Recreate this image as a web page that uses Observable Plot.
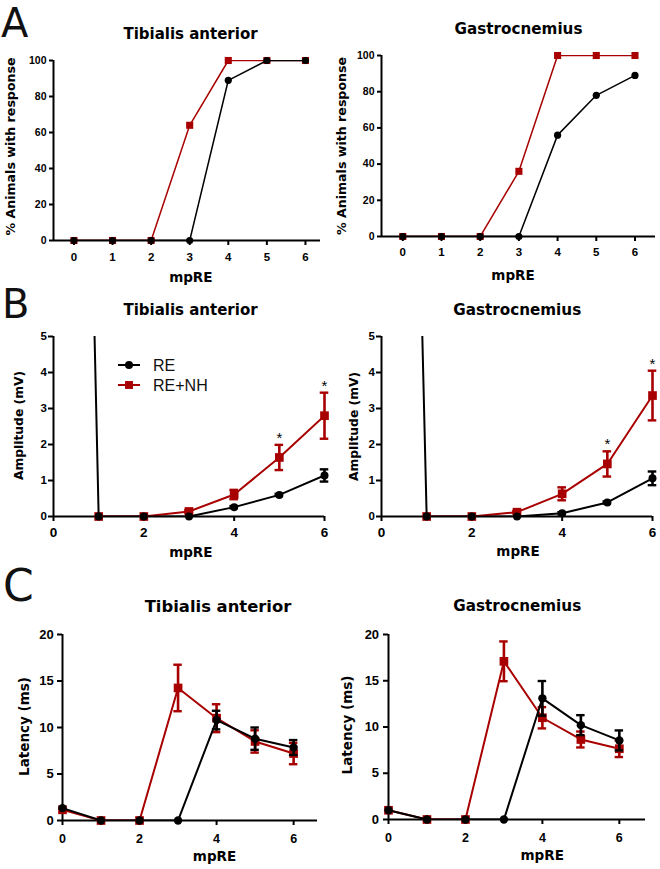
<!DOCTYPE html>
<html><head><meta charset="utf-8">
<script src="https://cdn.jsdelivr.net/npm/d3@7"></script>
<script src="https://cdn.jsdelivr.net/npm/@observablehq/plot@0.6"></script>
<style>
html,body{margin:0;padding:0;background:#fff;}
#fig{position:relative;width:660px;height:869px;overflow:hidden;background:#fff;}
.panel{position:absolute;}
#overlay{position:absolute;left:0;top:0;pointer-events:none;}
</style></head><body><div id="fig"></div>
<script>
// ---------- data ----------
const mpRE = [0, 1, 2, 3, 4, 5, 6];
const seriesNames = ["RE", "RE+NH"];
const muscles = ["Tibialis anterior", "Gastrocnemius"];

// A: % animals with response
const taRespRE = [0, 0, 0, 0, 89, 100, 100];
const taRespNH = [0, 0, 0, 64, 100, 100, 100];
const gcRespRE = [0, 0, 0, 0, 56, 78, 89];
const gcRespNH = [0, 0, 0, 36, 100, 100, 100];

// B: amplitude (mV), mean and SEM
const taAmpRE    = [55, 0, 0, 0, 0.26, 0.60, 1.14];
const taAmpREsem = [0, 0, 0, 0, 0.03, 0.03, 0.17];
const taAmpNH    = [null, 0, 0, 0.14, 0.61, 1.64, 2.80];
const taAmpNHsem = [null, 0, 0, 0.04, 0.13, 0.35, 0.64];
const gcAmpRE    = [52, 0, 0, 0, 0.09, 0.39, 1.06];
const gcAmpREsem = [0, 0, 0, 0, 0.03, 0.03, 0.19];
const gcAmpNH    = [null, 0, 0, 0.12, 0.63, 1.46, 3.36];
const gcAmpNHsem = [null, 0, 0, 0.03, 0.18, 0.35, 0.69];
const taAmpStars = [5, 6];
const gcAmpStars = [5, 6];

// C: latency (ms), mean and SEM
const taLatRE    = [1.33, 0, 0, 0, 10.8, 8.8, 7.85];
const taLatREsem = [0, 0, 0, 0, 1.0, 1.2, 0.8];
const taLatNH    = [1.15, 0, 0, 14.25, 11.0, 8.5, 7.2];
const taLatNHsem = [0, 0, 0, 2.5, 1.5, 1.2, 1.15];
const gcLatRE    = [1.0, 0, 0, 0, 13.1, 10.2, 8.55];
const gcLatREsem = [0, 0, 0, 0, 1.87, 1.08, 1.08];
const gcLatNH    = [1.0, 0, 0, 17.1, 11.0, 8.65, 7.65];
const gcLatNHsem = [0, 0, 0, 2.15, 1.15, 0.86, 0.9];

// tick values
const xTicksA = [0, 1, 2, 3, 4, 5, 6];
const xTicksBC = [0, 2, 4, 6];
const yTicksA = [0, 20, 40, 60, 80, 100];
const yTicksB = [0, 1, 2, 3, 4, 5];
const yTicksC = [0, 5, 10, 15, 20];

// ---------- drawing ----------
const RED = "#a80000", BLACK = "#000000";
const FONT = "'Liberation Sans', Arial, sans-serif";
const DFONT = "'DejaVu Sans', sans-serif";

function mk(ys, sem) {
  return mpRE.map((x, i) => ({x, y: ys[i], e: sem ? sem[i] : 0})).filter(d => d.y != null);
}

function panel(c) {
  const [mt, mr, mb, ml] = c.margin;
  const marks = [];
  marks.push(Plot.ruleY([c.yDomain[0]], {stroke: BLACK, strokeWidth: 2}));
  marks.push(Plot.ruleX([c.xDomain[0]], {stroke: BLACK, strokeWidth: 2}));
  // tick marks (labels drawn below as text marks)
  marks.push(Plot.axisX({ticks: c.xTicks, tickSize: c.xt[0], strokeWidth: 2, label: null, tickFormat: () => ""}));
  marks.push(Plot.axisY({ticks: c.yTicks, tickSize: c.yt[0], strokeWidth: 2, label: null, tickFormat: () => ""}));
  // tick labels
  marks.push(Plot.text(c.xTicks, {x: d => d, text: d => String(d), frameAnchor: "bottom", dy: c.xt[1],
    lineAnchor: "top", textAnchor: "middle", fontSize: c.xt[2], fontWeight: "bold", fontFamily: FONT, fill: BLACK}));
  marks.push(Plot.text(c.yTicks, {y: d => d, text: d => String(d), frameAnchor: "left", dx: c.yt[1],
    lineAnchor: "middle", textAnchor: "end", fontSize: c.yt[2], fontWeight: "bold", fontFamily: FONT, fill: BLACK}));

  for (const s of c.series) {
    const data = s.data;
    marks.push(Plot.line(data, {x: "x", y: "y", stroke: s.color, strokeWidth: c.lw, clip: true}));
    const eb = data.filter(d => d.e > 0);
    if (eb.length) {
      marks.push(Plot.ruleX(eb, {x: "x", y1: d => d.y - d.e, y2: d => d.y + d.e, stroke: s.color, strokeWidth: 2.6}));
      marks.push(Plot.ruleY(eb, {y: d => d.y + d.e, x1: d => d.x - c.cap, x2: d => d.x + c.cap, stroke: s.color, strokeWidth: 2.4}));
      marks.push(Plot.ruleY(eb, {y: d => d.y - d.e, x1: d => d.x - c.cap, x2: d => d.x + c.cap, stroke: s.color, strokeWidth: 2.4}));
    }
    marks.push(Plot.dot(data.filter(d => d.y <= c.yDomain[1]), {x: "x", y: "y", symbol: s.symbol, r: s.r, fill: s.color, stroke: null}));
    if (s.stars) {
      const sd = data.filter(d => s.stars.includes(d.x));
      marks.push(Plot.text(sd, {x: "x", y: d => d.y + d.e, text: () => "*", dy: -2, lineAnchor: "bottom",
        fontSize: 15, fontWeight: "normal", fontFamily: FONT, fill: BLACK}));
    }
  }
  marks.push(Plot.text([c.title[0]], {text: d => d, frameAnchor: "top-left", dx: c.title[1], dy: c.title[2],
    textAnchor: "middle", lineAnchor: "bottom", fontSize: c.title[3], fontWeight: "bold", fontFamily: DFONT, fill: BLACK}));
  marks.push(Plot.text(["mpRE"], {text: d => d, frameAnchor: "bottom-left", dx: c.xl[0], dy: c.xl[1],
    textAnchor: "middle", lineAnchor: "bottom", fontSize: c.xl[2], fontWeight: "bold", fontFamily: DFONT, fill: BLACK}));
  marks.push(Plot.text([c.yl[0]], {text: d => d, frameAnchor: "left", dx: c.yl[1], dy: c.yl[2], rotate: -90,
    textAnchor: "middle", lineAnchor: "middle", fontSize: c.yl[3], fontWeight: "bold", fontFamily: DFONT, fill: BLACK}));

  const svg = Plot.plot({
    width: c.width, height: c.height,
    marginTop: mt, marginRight: mr, marginBottom: mb, marginLeft: ml,
    x: {domain: c.xDomain},
    y: {domain: c.yDomain},
    style: "overflow: visible; background: transparent; color: #000;",
    marks
  });
  const div = document.createElement("div");
  div.className = "panel";
  div.style.left = c.left + "px";
  div.style.top = c.top + "px";
  div.appendChild(svg);
  document.getElementById("fig").appendChild(div);
}

const ser = (reY, reE, nhY, nhE, rRE, rNH, stars) => [
  {name: seriesNames[1], data: mk(nhY, nhE), color: RED, symbol: "square", r: rNH, stars},
  {name: seriesNames[0], data: mk(reY, reE), color: BLACK, symbol: "circle", r: rRE}
];

// xt: [tickSize, label dy (cap top below axis), fontSize]; yt: [tickSize, label dx (right edge), fontSize]
// Panel A
panel({left: 0, top: 0, width: 330, height: 290, margin: [60, 10, 50, 53],
  xDomain: [-0.53, 6.39], yDomain: [0, 100], xTicks: xTicksA, yTicks: yTicksA,
  xt: [5, 12, 11.5], yt: [4, -7, 10.5], lw: 1.5, cap: 0.1,
  title: [muscles[0], 137, -22, 15], xl: [137.3, 41, 13.5], yl: ["% Animals with response", -42.2, -4, 12.6],
  series: ser(taRespRE, null, taRespNH, null, 3.6, 4)});
panel({left: 330, top: 0, width: 330, height: 290, margin: [55, 5, 54, 51],
  xDomain: [-0.55, 6.53], yDomain: [0, 100], xTicks: xTicksA, yTicks: yTicksA,
  xt: [5, 11, 11.5], yt: [4, -7, 10.5], lw: 1.5, cap: 0.1,
  title: [muscles[1], 137, -21.7, 15.2], xl: [131.5, 43, 13.5], yl: ["% Animals with response", -40, 0, 12.6],
  series: ser(gcRespRE, null, gcRespNH, null, 3.6, 4)});

// Panel B
panel({left: 0, top: 290, width: 330, height: 285, margin: [46, 6, 59, 53],
  xDomain: [0, 6], yDomain: [0, 5], xTicks: xTicksBC, yTicks: yTicksB,
  xt: [5, 10.7, 13.5], yt: [5, -6.6, 11.5], lw: 2, cap: 0.095,
  title: [muscles[0], 137, -21.7, 15], xl: [137.3, 40.7, 13.5], yl: ["Amplitude (mV)", -34, -1, 12.3],
  series: ser(taAmpRE, taAmpREsem, taAmpNH, taAmpNHsem, 4, 4.9, taAmpStars)});
panel({left: 330, top: 290, width: 330, height: 285, margin: [46, 8, 59, 51],
  xDomain: [0, 6], yDomain: [0, 5], xTicks: xTicksBC, yTicks: yTicksB,
  xt: [5, 10.7, 13.5], yt: [5, -6.6, 11.5], lw: 2, cap: 0.095,
  title: [muscles[1], 135.7, -21.7, 15.2], xl: [136.5, 39, 13.5], yl: ["Amplitude (mV)", -27, 0, 12.3],
  series: ser(gcAmpRE, gcAmpREsem, gcAmpNH, gcAmpNHsem, 4, 4.9, gcAmpStars)});

// Panel C
panel({left: 0, top: 575, width: 330, height: 294, margin: [59, 13, 49, 62],
  xDomain: [0, 6.62], yDomain: [0, 20], xTicks: xTicksBC, yTicks: yTicksC,
  xt: [5, 13.3, 12.5], yt: [5, -8.7, 13], lw: 2, cap: 0.11,
  title: [muscles[0], 155.5, -22.3, 16.4], xl: [152, 40, 13.5], yl: ["Latency (ms)", -38, -1, 13.5],
  series: ser(taLatRE, taLatREsem, taLatNH, taLatNHsem, 4.2, 4.9)});
panel({left: 330, top: 575, width: 330, height: 294, margin: [59, 15, 50, 58],
  xDomain: [0, 6.68], yDomain: [0, 20], xTicks: xTicksBC, yTicks: yTicksC,
  xt: [5, 13.3, 12.5], yt: [5, -9.4, 13], lw: 2, cap: 0.11,
  title: [muscles[1], 128.7, -23.3, 15.2], xl: [153.7, 40.7, 13.5], yl: ["Latency (ms)", -40.5, -2, 13.5],
  series: ser(gcLatRE, gcLatREsem, gcLatNH, gcLatNHsem, 4.2, 4.9)});

// ---------- overlay: panel letters and legend ----------
const ov = d3.select("#fig").append("svg").attr("id", "overlay").attr("width", 660).attr("height", 869);
const letters = [["A", 1, 37, 40], ["B", 2, 318, 40], ["C", 3, 601, 44]];
ov.selectAll("text.letter").data(letters).join("text").attr("class", "letter")
  .attr("x", d => d[1]).attr("y", d => d[2]).attr("font-size", d => d[3])
  .attr("font-family", DFONT).attr("fill", "#111").text(d => d[0]);

const leg = ov.append("g").attr("transform", "translate(118,365)");
const legItems = [
  {name: seriesNames[0], color: BLACK, symbol: d3.symbolCircle, size: Math.PI * 16},
  {name: seriesNames[1], color: RED, symbol: d3.symbolSquare, size: Math.PI * 20}
];
legItems.forEach((it, i) => {
  const g = leg.append("g").attr("transform", `translate(0,${i * 20})`);
  g.append("line").attr("x1", 0).attr("x2", 22).attr("stroke", it.color).attr("stroke-width", 2);
  g.append("path").attr("transform", "translate(11,0)").attr("d", d3.symbol(it.symbol, it.size)()).attr("fill", it.color);
  g.append("text").attr("x", 35).attr("y", 5.5).attr("font-size", 16).attr("font-family", FONT)
    .attr("fill", "#111").text(it.name);
});
</script></body></html>
